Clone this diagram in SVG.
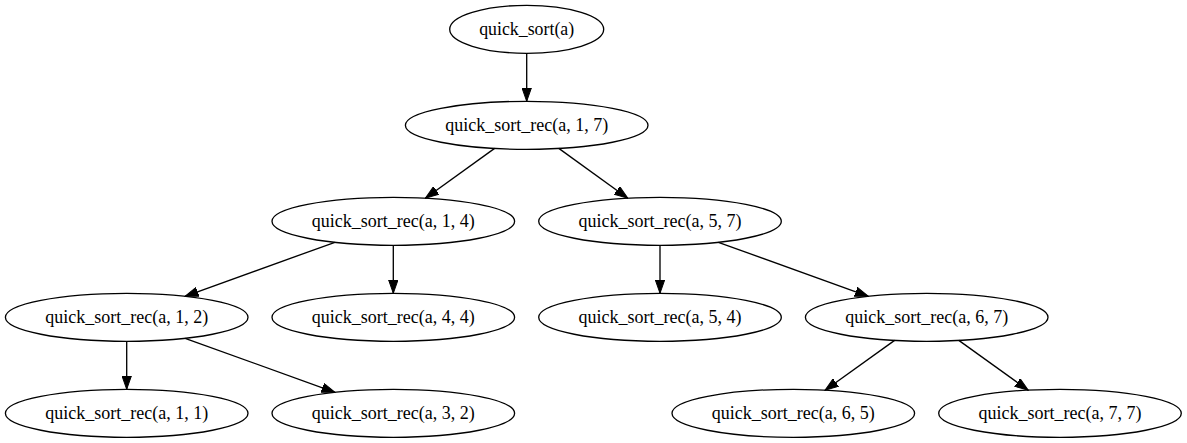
<svg xmlns="http://www.w3.org/2000/svg" width="1187" height="443" viewBox="0 0 1187 443">
  <style>
    .node ellipse { fill: none; stroke: #000; stroke-width: 1.33; }
    .node text { font-family: "Liberation Serif", "Times New Roman", serif; font-size: 18.67px; fill: #000; text-anchor: middle; }
    .edges line { stroke: #000; stroke-width: 1.33; marker-end: url(#arrow); }
  </style>
  <defs>
    <marker id="arrow" markerUnits="userSpaceOnUse" markerWidth="14" markerHeight="10" viewBox="0 0 14 10" refX="13.3" refY="5" orient="auto">
      <path d="M0,0.33 L13.3,5 L0,9.67 Z" fill="#000" stroke="#000" stroke-width="1"/>
    </marker>
  </defs>
  <rect width="1187" height="443" fill="#fff"/>

  <!-- call edges -->
  <g id="edges" class="edges">
    <line x1="526.7" y1="53.3" x2="526.7" y2="101.3"/>
    <line x1="494.6" y1="148.4" x2="425.4" y2="198.2"/>
    <line x1="558.8" y1="148.4" x2="627.8" y2="198.2"/>
    <line x1="334.9" y1="242.3" x2="185.1" y2="296.3"/>
    <line x1="393.3" y1="245.3" x2="393.3" y2="293.3"/>
    <line x1="660" y1="245.3" x2="660" y2="293.3"/>
    <line x1="718.4" y1="242.3" x2="868.3" y2="296.3"/>
    <line x1="126.7" y1="341.3" x2="126.7" y2="389.3"/>
    <line x1="185.1" y1="338.3" x2="334.9" y2="392.3"/>
    <line x1="894.6" y1="340.4" x2="825.1" y2="390.2"/>
    <line x1="958.8" y1="340.4" x2="1028.2" y2="390.2"/>
  </g>

  <g id="n_quick_sort" class="node">
    <ellipse cx="526.7" cy="29.3" rx="77" ry="24"/>
    <text x="526.7" y="35" textLength="95" lengthAdjust="spacingAndGlyphs">quick_sort(a)</text>
  </g>
  <g id="n_1_7" class="node">
    <ellipse cx="526.7" cy="125.3" rx="121.3" ry="24"/>
    <text x="526.7" y="131" textLength="163" lengthAdjust="spacingAndGlyphs">quick_sort_rec(a, 1, 7)</text>
  </g>
  <g id="n_1_4" class="node">
    <ellipse cx="393.3" cy="221.3" rx="121.3" ry="24"/>
    <text x="393.3" y="227" textLength="163" lengthAdjust="spacingAndGlyphs">quick_sort_rec(a, 1, 4)</text>
  </g>
  <g id="n_5_7" class="node">
    <ellipse cx="660" cy="221.3" rx="121.3" ry="24"/>
    <text x="660" y="227" textLength="163" lengthAdjust="spacingAndGlyphs">quick_sort_rec(a, 5, 7)</text>
  </g>
  <g id="n_1_2" class="node">
    <ellipse cx="126.7" cy="317.3" rx="121.3" ry="24"/>
    <text x="126.7" y="323" textLength="163" lengthAdjust="spacingAndGlyphs">quick_sort_rec(a, 1, 2)</text>
  </g>
  <g id="n_4_4" class="node">
    <ellipse cx="393.3" cy="317.3" rx="121.3" ry="24"/>
    <text x="393.3" y="323" textLength="163" lengthAdjust="spacingAndGlyphs">quick_sort_rec(a, 4, 4)</text>
  </g>
  <g id="n_5_4" class="node">
    <ellipse cx="660" cy="317.3" rx="121.3" ry="24"/>
    <text x="660" y="323" textLength="163" lengthAdjust="spacingAndGlyphs">quick_sort_rec(a, 5, 4)</text>
  </g>
  <g id="n_6_7" class="node">
    <ellipse cx="926.7" cy="317.3" rx="121.3" ry="24"/>
    <text x="926.7" y="323" textLength="163" lengthAdjust="spacingAndGlyphs">quick_sort_rec(a, 6, 7)</text>
  </g>
  <g id="n_1_1" class="node">
    <ellipse cx="126.7" cy="413.3" rx="121.3" ry="24"/>
    <text x="126.7" y="419" textLength="163" lengthAdjust="spacingAndGlyphs">quick_sort_rec(a, 1, 1)</text>
  </g>
  <g id="n_3_2" class="node">
    <ellipse cx="393.3" cy="413.3" rx="121.3" ry="24"/>
    <text x="393.3" y="419" textLength="163" lengthAdjust="spacingAndGlyphs">quick_sort_rec(a, 3, 2)</text>
  </g>
  <g id="n_6_5" class="node">
    <ellipse cx="793.3" cy="413.3" rx="121.3" ry="24"/>
    <text x="793.3" y="419" textLength="163" lengthAdjust="spacingAndGlyphs">quick_sort_rec(a, 6, 5)</text>
  </g>
  <g id="n_7_7" class="node">
    <ellipse cx="1060" cy="413.3" rx="121.3" ry="24"/>
    <text x="1060" y="419" textLength="163" lengthAdjust="spacingAndGlyphs">quick_sort_rec(a, 7, 7)</text>
  </g>
</svg>
